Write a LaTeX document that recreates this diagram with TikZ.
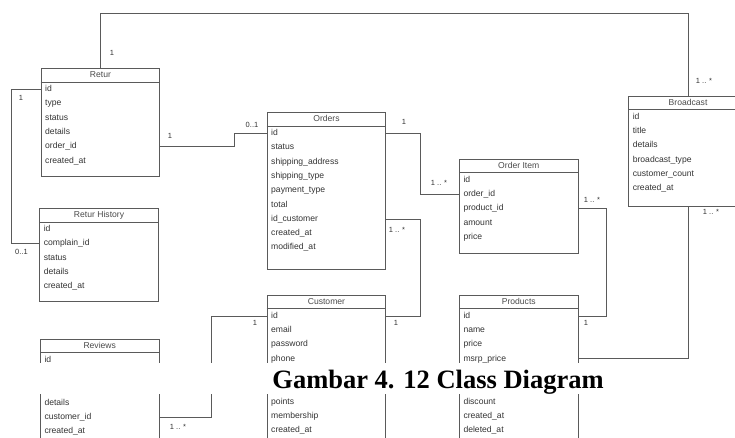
\documentclass[tikz,border=0pt]{standalone}
\usepackage{fontspec}
\setmainfont{Liberation Sans}
\newfontfamily\capfont{Liberation Serif}
\usetikzlibrary{calc}
\definecolor{umlline}{HTML}{5A5A5A}
\definecolor{umltext}{HTML}{333333}
\definecolor{umltitle}{HTML}{4A4A4A}
\tikzset{
  cls/.style={draw=umlline, line width=0.9pt, anchor=north west, minimum width=118.6, inner sep=0pt},
  ttl/.style={font=\fontsize{8.6}{10}\selectfont, text=umltitle, inner sep=0pt, text height=6.2, text depth=1.8},
  att/.style={font=\fontsize{8.6}{10}\selectfont, text=umltext, anchor=west, inner sep=0pt, text height=6.2, text depth=1.8},
  ln/.style={draw=umlline, line width=0.9pt},
  mlt/.style={font=\fontsize{7.5}{9}\selectfont, text=umltext, inner sep=0pt},
}
\begin{document}
\begin{tikzpicture}[x=1pt, y=-1pt]
  \clip (0,0) rectangle (735,437);
  % Retur
  \node[cls, minimum height=107.7] (retur) at (40.7,68.3) {};
  \node[ttl] at ($(retur.north)+(0,7)$) {Retur};
  \draw[ln] ($(retur.north west)+(0,13.7)$) -- ($(retur.north east)+(0,13.7)$);
  \foreach \i/\t in {1/id,2/type,3/status,4/details,5/order\_id,6/created\_at}
    \node[att] (retur\i) at ($(retur.north west)+(4.3,6.7+14.3*\i)$) {\t};
  % Retur History
  \node[cls, minimum height=92.7] (hist) at (39.3,208.3) {};
  \node[ttl] at ($(hist.north)+(0,7)$) {Retur History};
  \draw[ln] ($(hist.north west)+(0,13.7)$) -- ($(hist.north east)+(0,13.7)$);
  \foreach \i/\t in {1/id,2/complain\_id,3/status,4/details,5/created\_at}
    \node[att] (hist\i) at ($(hist.north west)+(4.3,6.7+14.3*\i)$) {\t};
  % Reviews
  \node[cls, minimum height=130] (rev) at (40,339) {};
  \node[ttl] at ($(rev.north)+(0,7)$) {Reviews};
  \draw[ln] ($(rev.north west)+(0,13.7)$) -- ($(rev.north east)+(0,13.7)$);
  \foreach \i/\t in {1/id,4/details,5/customer\_id,6/created\_at}
    \node[att] (rev\i) at ($(rev.north west)+(4.3,6.7+14.3*\i)$) {\t};
  % Orders
  \node[cls, minimum height=157] (ord) at (266.7,112.3) {};
  \node[ttl] at ($(ord.north)+(0,7)$) {Orders};
  \draw[ln] ($(ord.north west)+(0,13.7)$) -- ($(ord.north east)+(0,13.7)$);
  \foreach \i/\t in {1/id,2/status,3/shipping\_address,4/shipping\_type,5/payment\_type,6/total,7/id\_customer,8/created\_at,9/modified\_at}
    \node[att] (ord\i) at ($(ord.north west)+(4.3,6.7+14.3*\i)$) {\t};
  % Customer
  \node[cls, minimum height=170] (cust) at (266.7,295) {};
  \node[ttl] at ($(cust.north)+(0,7)$) {Customer};
  \draw[ln] ($(cust.north west)+(0,13.7)$) -- ($(cust.north east)+(0,13.7)$);
  \foreach \i/\t in {1/id,2/email,3/password,4/phone,7/points,8/membership,9/created\_at}
    \node[att] (cust\i) at ($(cust.north west)+(4.3,6.7+14.3*\i)$) {\t};
  % Order Item
  \node[cls, minimum height=94.3] (item) at (459,159) {};
  \node[ttl] at ($(item.north)+(0,7)$) {Order Item};
  \draw[ln] ($(item.north west)+(0,13.7)$) -- ($(item.north east)+(0,13.7)$);
  \foreach \i/\t in {1/id,2/order\_id,3/product\_id,4/amount,5/price}
    \node[att] (item\i) at ($(item.north west)+(4.3,6.7+14.3*\i)$) {\t};
  % Products
  \node[cls, minimum height=170] (prod) at (459,295) {};
  \node[ttl] at ($(prod.north)+(0,7)$) {Products};
  \draw[ln] ($(prod.north west)+(0,13.7)$) -- ($(prod.north east)+(0,13.7)$);
  \foreach \i/\t in {1/id,2/name,3/price,4/msrp\_price,7/discount,8/created\_at,9/deleted\_at}
    \node[att] (prod\i) at ($(prod.north west)+(4.3,6.7+14.3*\i)$) {\t};
  % Broadcast
  \node[cls, minimum height=110] (bc) at (628.3,96) {};
  \node[ttl] at ($(bc.north)+(0,7)$) {Broadcast};
  \draw[ln] ($(bc.north west)+(0,13.7)$) -- ($(bc.north east)+(0,13.7)$);
  \foreach \i/\t in {1/id,2/title,3/details,4/broadcast\_type,5/customer\_count,6/created\_at}
    \node[att] (bc\i) at ($(bc.north west)+(4.3,6.7+14.3*\i)$) {\t};
  % relations
  \draw[ln] (retur.north) -- ++(0,-55) -| (bc.north);
  \node[mlt] at (112,53) {1};
  \node[mlt] at (704,81) {1 .. *};
  \draw[ln] (retur.west |- retur1) -- ++(-29,0) |- (hist.west |- hist2);
  \node[mlt] at (21,98) {1};
  \node[mlt] at (21.5,252) {0..1};
  \draw[ln] (retur.east |- retur5) -- ++(74,0) |- (ord.west |- ord1);
  \node[mlt] at (170,136) {1};
  \node[mlt] at (252,125) {0..1};
  \draw[ln] (ord.east |- ord1) -- ++(34,0) |- (item.west |- item2);
  \node[mlt] at (404,122) {1};
  \node[mlt] at (439,183) {1 .. *};
  \draw[ln] (ord.east |- ord7) -- ++(34,0) |- (cust.east |- cust1);
  \node[mlt] at (397,230) {1 .. *};
  \node[mlt] at (396,323) {1};
  \draw[ln] (cust.west |- cust1) -- ++(-55.7,0) |- (rev.east |- rev5);
  \node[mlt] at (255,323) {1};
  \node[mlt] at (178,427) {1 .. *};
  \draw[ln] (item.east |- item3) -- ++(27.7,0) |- (prod.east |- prod1);
  \node[mlt] at (592,200) {1 .. *};
  \node[mlt] at (586,323) {1};
  \draw[ln] (prod.east |- prod4) -| (bc.south);
  \node[mlt] at (711,212) {1 .. *};
  % caption
  \node[fill=white, minimum width=735, minimum height=31, inner sep=0pt] (band) at (367.5,378.5) {};
  \node[font=\capfont\bfseries\fontsize{26.5}{30}\selectfont, anchor=base, inner sep=0pt] (cap) at (438,388) {Gambar 4. 12 Class Diagram};
\end{tikzpicture}
\end{document}
